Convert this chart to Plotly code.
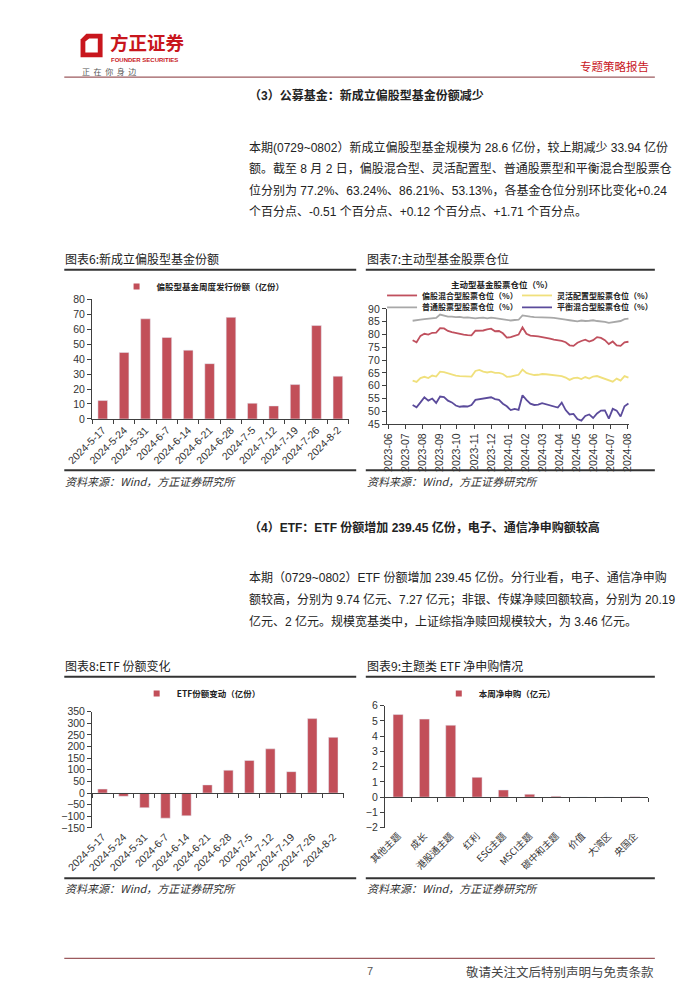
import plotly.graph_objects as go
import pandas as pd

W, H = 700, 990


def X(px):
    return px / W


def Y(py):
    return 1 - py / H


# ---------------- data ----------------
weeks = ["2024-5-17", "2024-5-24", "2024-5-31", "2024-6-7", "2024-6-14", "2024-6-21",
         "2024-6-28", "2024-7-5", "2024-7-12", "2024-7-19", "2024-7-26", "2024-8-2"]
new_fund_share = [12.3, 44.5, 67.0, 54.5, 46.0, 37.0, 68.0, 10.5, 8.7, 23.0, 62.5, 28.6]
etf_share_change = [17, -14, -63, -108, -98, 35, 98, 140, 190, 92, 320, 239.45]

themes = ["其他主题", "成长", "港股通主题", "红利", "ESG主题", "MSCI主题", "碳中和主题",
          "价值", "大湾区", "央国企"]
theme_net_sub = [5.42, 5.12, 4.72, 1.30, 0.47, 0.19, 0.06, 0.01, 0.01, 0.02]

pos_dates = pd.date_range("2023-07-14", "2024-08-02", freq="W-FRI")
pos_partial_equity = [77.8, 77.0, 79.5, 80.3, 80.0, 80.7, 80.8, 82.5, 82.4, 81.4,
                      81.0, 80.6, 80.4, 80.0, 79.8, 79.7, 81.5, 81.6, 81.6, 82.0,
                      82.3, 81.3, 81.4, 80.5, 78.8, 79.0, 79.5, 80.0, 82.8, 80.3,
                      79.6, 79.5, 79.3, 79.0, 78.8, 78.4, 78.0, 77.8, 77.5, 77.0,
                      75.8, 75.6, 76.8, 77.5, 78.0, 77.3, 77.8, 79.0, 78.7, 77.8,
                      76.3, 77.3, 75.8, 75.6, 77.0, 77.2]
pos_flexible = [62.0, 61.5, 63.0, 63.5, 63.0, 64.0, 63.6, 65.5, 65.3, 64.8,
                64.4, 64.0, 63.8, 63.7, 63.5, 63.6, 65.8, 66.2, 65.5, 65.2,
                65.5, 65.0, 65.0, 64.6, 63.5, 63.6, 64.0, 64.3, 66.3, 65.0,
                64.5, 64.2, 64.3, 64.6, 64.5, 64.3, 64.0, 63.8, 63.8, 63.2,
                62.3, 63.0, 63.2, 62.6, 63.4, 62.8, 63.6, 63.8, 63.2, 62.8,
                62.0, 61.6, 62.8, 62.0, 63.8, 63.2]
pos_stock = [85.4, 85.5, 85.8, 86.0, 86.2, 86.3, 86.5, 87.8, 87.5, 87.0,
             87.0, 86.8, 86.9, 86.6, 86.7, 86.5, 86.3, 86.5, 86.6, 86.3,
             86.6, 86.4, 86.2, 86.0, 85.6, 85.5, 85.7, 85.8, 87.5, 87.1,
             87.0, 86.8, 86.8, 86.7, 86.8, 86.6, 86.5, 86.2, 86.0, 85.8,
             85.6, 85.3, 85.2, 85.5, 85.3, 85.4, 85.6, 85.3, 85.2, 85.0,
             84.6, 84.9, 85.0, 85.3, 86.0, 86.2]
pos_balanced = [52.5, 51.6, 53.5, 55.5, 54.2, 55.0, 53.3, 55.8, 55.6, 54.2,
                53.5, 52.3, 51.8, 52.0, 51.9, 52.5, 54.5, 54.8, 55.0, 55.3,
                55.5, 54.8, 54.5, 53.0, 52.0, 50.5, 51.0, 50.6, 56.3, 54.5,
                53.0, 52.5, 52.6, 53.2, 52.8, 52.4, 52.0, 51.5, 53.4, 50.5,
                48.8, 49.0, 47.0, 46.4, 48.2, 48.8, 47.4, 49.2, 50.3, 50.4,
                47.2, 51.0, 50.3, 48.0, 52.0, 53.1]

# ---------------- styles ----------------
FONT = "Liberation Sans, Noto Sans CJK SC, sans-serif"
CJK = "Noto Sans CJK SC, Liberation Sans, sans-serif"
BAR = "#C24F59"
RED = "#C0505E"
YEL = "#F0E07C"
GRY = "#A8A8A8"
PUR = "#5B4B9B"
AX = "#404040"
TXT = "#222222"

fig = go.Figure()

# chart 6
fig.add_trace(go.Bar(x=weeks, y=new_fund_share, marker_color=BAR, width=0.45,
                     xaxis="x", yaxis="y", showlegend=False, hoverinfo="x+y"))
fig.add_trace(go.Scatter(x=[None], y=[None], mode="markers", xaxis="x", yaxis="y",
                         marker=dict(symbol="square", size=6, color=BAR),
                         name="<b>偏股型基金周度发行份额（亿份）</b>", legend="legend"))

# chart 7
for name, vals, col, lg in [("偏股混合型股票仓位（%）", pos_partial_equity, RED, "legend2"),
                            ("灵活配置型股票仓位（%）", pos_flexible, YEL, "legend3"),
                            ("普通股票型股票仓位（%）", pos_stock, GRY, "legend6"),
                            ("平衡混合型股票仓位（%）", pos_balanced, PUR, "legend7")]:
    fig.add_trace(go.Scatter(x=pos_dates, y=vals, mode="lines", line=dict(color=col, width=1.8),
                             name="<b>" + name + "</b>", xaxis="x2", yaxis="y2", legend=lg))

# chart 8
fig.add_trace(go.Bar(x=weeks, y=etf_share_change, marker_color=BAR, width=0.45,
                     xaxis="x3", yaxis="y3", showlegend=False))
fig.add_trace(go.Scatter(x=list(range(len(weeks))), y=etf_share_change, mode="markers",
                         marker=dict(opacity=0), xaxis="x4", yaxis="y3",
                         showlegend=False, hoverinfo="skip"))
fig.add_trace(go.Scatter(x=[None], y=[None], mode="markers", xaxis="x3", yaxis="y3",
                         marker=dict(symbol="square", size=6, color=BAR),
                         name="<b>ETF份额变动（亿份）</b>", legend="legend4"))

# chart 9
fig.add_trace(go.Bar(x=themes, y=theme_net_sub, marker_color=BAR, width=0.38,
                     xaxis="x5", yaxis="y4", showlegend=False))
fig.add_trace(go.Scatter(x=list(range(len(themes))), y=theme_net_sub, mode="markers",
                         marker=dict(opacity=0), xaxis="x6", yaxis="y4",
                         showlegend=False, hoverinfo="skip"))
fig.add_trace(go.Scatter(x=[None], y=[None], mode="markers", xaxis="x5", yaxis="y4",
                         marker=dict(symbol="square", size=6, color=BAR),
                         name="<b>本周净申购（亿元）</b>", legend="legend5"))

tickfont = dict(family=FONT, size=10.5, color="#333")
common_y = dict(showline=True, linecolor=AX, linewidth=1, ticks="outside", ticklen=4,
                tickcolor=AX, showgrid=False, zeroline=False, tickfont=tickfont)

d6x = [X(69), X(337)]
d6y = [Y(418), Y(297)]
d7x = [X(377), X(630)]
d7y = [Y(423.3), Y(306.7)]
d8x = [X(69), X(332)]
d8y = [Y(832), Y(714.3)]
d9x = [X(375), X(650)]
d9y = [Y(831.7), Y(708.3)]
r8 = [-150, 350]
r9 = [-2, 6]


def zero_pos(dom, rng):
    return dom[0] + (0 - rng[0]) / (rng[1] - rng[0]) * (dom[1] - dom[0])


fig.update_layout(
    width=W, height=H, margin=dict(l=0, r=0, t=0, b=0),
    paper_bgcolor="white", plot_bgcolor="white",
    font=dict(family=FONT, color=TXT),
    bargap=0.5,
    xaxis=dict(domain=d6x, anchor="y", type="category", tickangle=-45, ticks="outside",
               tickson="boundaries", ticklen=4, tickcolor=AX, showline=True, linecolor=AX,
               showgrid=False, tickfont=tickfont),
    yaxis=dict(domain=d6y, anchor="x", range=[0, 80], dtick=10, **common_y),
    xaxis2=dict(domain=d7x, anchor="y2", type="date", range=["2023-05-29", "2024-08-03"],
                tick0="2023-06-01", dtick="M1", tickformat="%Y-%m", tickangle=-90,
                ticks="outside", ticklen=4, tickcolor=AX, showline=True, linecolor=AX,
                showgrid=False, tickfont=tickfont),
    yaxis2=dict(domain=d7y, anchor="x2", range=[45, 90], dtick=5, **common_y),
    xaxis3=dict(domain=d8x, anchor="y3", type="category", tickangle=-45, ticks="",
                showline=False, showgrid=False, tickfont=tickfont),
    yaxis3=dict(domain=d8y, anchor="x3", range=r8, dtick=50, **common_y),
    xaxis4=dict(domain=d8x, overlaying="x3", anchor="free", position=zero_pos(d8y, r8),
                range=[-0.5, len(weeks) - 0.5], tickmode="array",
                tickvals=[i - 0.5 for i in range(len(weeks) + 1)], ticks="outside",
                ticklen=4, tickcolor=AX, showticklabels=False, showline=True,
                linecolor=AX, showgrid=False, zeroline=False),
    xaxis5=dict(domain=d9x, anchor="y4", type="category", tickangle=-45, ticks="",
                showline=False, showgrid=False,
                tickfont=dict(family=CJK, size=9.5, color="#333")),
    yaxis4=dict(domain=d9y, anchor="x5", range=r9, dtick=1, **common_y),
    xaxis6=dict(domain=d9x, overlaying="x5", anchor="free", position=zero_pos(d9y, r9),
                range=[-0.5, len(themes) - 0.5], tickmode="array",
                tickvals=[i - 0.5 for i in range(len(themes) + 1)], ticks="outside",
                ticklen=4, tickcolor=AX, showticklabels=False, showline=True,
                linecolor=AX, showgrid=False, zeroline=False),
)

legfont = dict(family=CJK, size=8.5, color=TXT)
legfont7 = dict(family=CJK, size=8, color=TXT)
base_leg = dict(orientation="h", bgcolor="rgba(0,0,0,0)", yanchor="middle",
                itemwidth=30, tracegroupgap=0)
fig.update_layout(
    legend=dict(x=X(185), xanchor="center", y=Y(284), font=legfont, **base_leg),
    legend2=dict(x=X(372), xanchor="left", y=Y(293), font=legfont7, **base_leg),
    legend3=dict(x=X(513), xanchor="left", y=Y(293), font=legfont7, **base_leg),
    legend6=dict(x=X(372), xanchor="left", y=Y(305), font=legfont7, **base_leg),
    legend7=dict(x=X(513), xanchor="left", y=Y(305), font=legfont7, **base_leg),
    legend4=dict(x=X(183), xanchor="center", y=Y(696), font=legfont, **base_leg),
    legend5=dict(x=X(495), xanchor="center", y=Y(696), font=legfont, **base_leg),
)

ann = []


def text(x, y, s, size=12, color=TXT, family=FONT, xanchor="left", style="normal"):
    ann.append(dict(x=X(x), y=Y(y), xref="paper", yref="paper", text=s, showarrow=False,
                    xanchor=xanchor, yanchor="middle", borderpad=0,
                    font=dict(family=family, size=size, color=color, style=style)))


# header
text(87, 36, "<b>方正证券</b>", size=18.5, color="#C8161D", family=CJK)
text(88, 54.5, "<b>FOUNDER SECURITIES</b>", size=6, color="#C8161D")
text(57, 66, "正  在  你  身  边", size=8, color="#555", family=CJK)
text(652, 61, "专题策略报告", size=11.5, color="#C8161D", family=CJK, xanchor="right")

# section 3
text(232, 91, "<b>（3）公募基金：新成立偏股型基金份额减少</b>", size=12)
p1 = ["本期(0729~0802）新成立偏股型基金规模为 28.6 亿份，较上期减少 33.94 亿份",
      "额。截至 8 月 2 日，偏股混合型、灵活配置型、普通股票型和平衡混合型股票仓",
      "位分别为 77.2%、63.24%、86.21%、53.13%，各基金仓位分别环比变化+0.24",
      "个百分点、-0.51 个百分点、+0.12 个百分点、+1.71 个百分点。"]
for i, s in enumerate(p1):
    text(232, 143 + 22 * i, s, size=12)

# section 4
text(232, 528, "<b>（4）ETF：ETF 份额增加 239.45 亿份，电子、通信净申购额较高</b>", size=12)
p2 = ["本期（0729~0802）ETF 份额增加 239.45 亿份。分行业看，电子、通信净申购",
      "额较高，分别为 9.74 亿元、7.27 亿元；非银、传媒净赎回额较高，分别为 20.19",
      "亿元、2 亿元。规模宽基类中，上证综指净赎回规模较大，为 3.46 亿元。"]
for i, s in enumerate(p2):
    text(232, 579 + 22 * i, s, size=12)

# chart titles
text(40, 256, "图表6:新成立偏股型基金份额", size=12, family=CJK)
text(355, 256, "图表7:主动型基金股票仓位", size=12, family=CJK)
text(40, 668, "图表8:ETF 份额变化", size=12, family=CJK)
text(355, 668, "图表9:主题类 ETF 净申购情况", size=12, family=CJK)
text(497, 281, "<b>主动型基金股票仓位（%）</b>", size=8.5, family=CJK, xanchor="center")

# sources
src = "资料来源：Wind，方正证券研究所"
for (x, y) in [(40, 481), (355, 481), (40, 893), (355, 893)]:
    text(x, y, src, size=11, family=CJK, style="italic", color="#333")

# footer
text(355, 977, "7", size=11, color="#555")
text(657, 977, "敬请关注文后特别声明与免责条款", size=12.5, color="#444", family=CJK,
     xanchor="right")

fig.update_layout(annotations=ann)

shapes = []


def hline(x0, x1, y, color, width):
    shapes.append(dict(type="line", xref="paper", yref="paper", x0=X(x0), x1=X(x1),
                       y0=Y(y), y1=Y(y), line=dict(color=color, width=width)))


hline(40, 657, 72, "#9C5A5E", 1.2)
hline(40, 657, 964, "#9C5A5E", 1.2)
for (a, b) in [(40, 345), (355, 657)]:
    hline(a, b, 267, "#333", 2)
    hline(a, b, 470, "#333", 2)
    hline(a, b, 679, "#333", 2)
    hline(a, b, 883, "#333", 2)


# logo
def P(x, y):
    return f"{X(x):.5f},{Y(y):.5f}"


shapes.append(dict(type="path", xref="paper", yref="paper",
                   path=f"M{P(57,34)} L{P(63,28)} L{P(80,28)} L{P(80,52)} L{P(57,52)} Z",
                   fillcolor="#C8161D", line=dict(width=0)))
shapes.append(dict(type="path", xref="paper", yref="paper",
                   path=f"M{P(62,36)} L{P(66,33)} L{P(75,33)} L{P(75,47)} L{P(62,47)} Z",
                   fillcolor="white", line=dict(width=0)))
fig.update_layout(shapes=shapes)

fig.write_html("out.html")
